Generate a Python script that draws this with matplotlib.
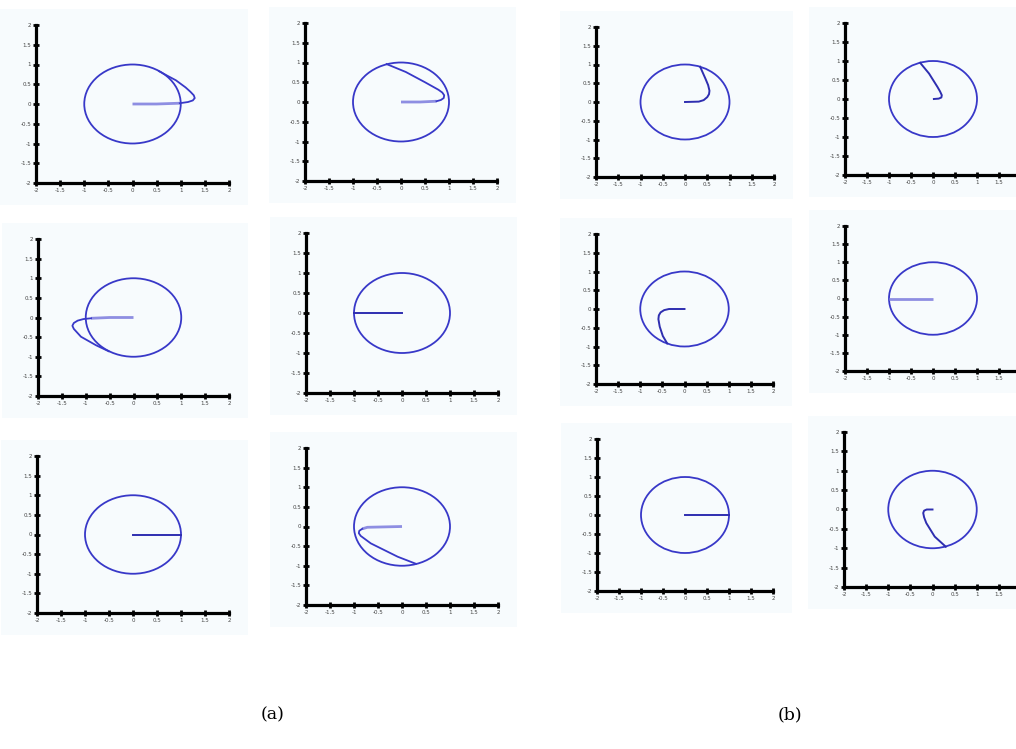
import numpy as np
import matplotlib
matplotlib.use("Agg")
import matplotlib.pyplot as plt
from matplotlib.patches import Circle, Rectangle

W, H = 1016, 749

ticks = [-2, -1.5, -1, -0.5, 0, 0.5, 1, 1.5, 2]
tick_labels = ["-2", "-1.5", "-1", "-0.5", "0", "0.5", "1", "1.5", "2"]
circle_radius = 1.0

# arm curves per panel (row-major, 3 rows x 4 cols); light part = points [0:split+1]
p1_x = [0, 0.5, 0.98, 1.15, 1.25, 1.29, 1.27, 1.2, 1.1, 0.9, 0.7, 0.55]
p1_y = [0, 0.0, 0.02, 0.05, 0.09, 0.15, 0.22, 0.31, 0.42, 0.6, 0.73, 0.83]
p1_split = 2
p2_x = [0, 0.4, 0.74, 0.83, 0.89, 0.90, 0.86, 0.78, 0.5, 0.1, -0.3]
p2_y = [0, 0.0, 0.02, 0.05, 0.10, 0.17, 0.24, 0.31, 0.5, 0.76, 0.96]
p2_split = 2
p3_x = [0, 0.31, 0.42, 0.50, 0.54, 0.55, 0.52, 0.46, 0.40, 0.34]
p3_y = [0, 0.01, 0.05, 0.13, 0.21, 0.30, 0.45, 0.62, 0.78, 0.94]
p3_split = 0
p4_x = [0.02, 0.13, 0.19, 0.2, 0.16, 0.10, -0.09, -0.29]
p4_y = [0, 0.01, 0.04, 0.10, 0.20, 0.32, 0.67, 0.95]
p4_split = 0
p5_x = [0, -0.5, -0.89, -1.05, -1.17, -1.25, -1.28, -1.25, -1.10, -0.78, -0.52]
p5_y = [0, 0.0, -0.02, -0.04, -0.08, -0.14, -0.21, -0.29, -0.49, -0.71, -0.86]
p5_split = 2
p6_x = [0, -1]
p6_y = [0, 0]
p6_split = 0
p7_x = [0, -0.35, -0.46, -0.54, -0.58, -0.59, -0.56, -0.49, -0.39]
p7_y = [0, 0, -0.03, -0.09, -0.17, -0.27, -0.47, -0.72, -0.92]
p7_split = 0
p8_x = [0, -1]
p8_y = [0, 0]
p8_split = 1
p9_x = [0, 1]
p9_y = [0, 0]
p9_split = 0
p10_x = [0, -0.72, -0.83, -0.89, -0.90, -0.86, -0.65, -0.09, 0.29]
p10_y = [0, -0.02, -0.06, -0.11, -0.17, -0.24, -0.43, -0.77, -0.95]
p10_split = 2
p11_x = [0, 1]
p11_y = [0, 0]
p11_split = 0
p12_x = [0, -0.13, -0.19, -0.21, -0.19, -0.14, 0.05, 0.30]
p12_y = [0, 0, -0.03, -0.09, -0.20, -0.35, -0.70, -0.96]
p12_split = 0

arms = [(p1_x, p1_y, p1_split), (p2_x, p2_y, p2_split), (p3_x, p3_y, p3_split), (p4_x, p4_y, p4_split),
        (p5_x, p5_y, p5_split), (p6_x, p6_y, p6_split), (p7_x, p7_y, p7_split), (p8_x, p8_y, p8_split),
        (p9_x, p9_y, p9_split), (p10_x, p10_y, p10_split), (p11_x, p11_y, p11_split), (p12_x, p12_y, p12_split)]

# axes boxes in pixels: left, right, top, bottom
boxes = [(36, 229, 25, 183), (305, 497, 23, 181), (596, 774, 27, 177), (845, 1021, 23, 175),
         (38, 229, 239, 396), (306, 498, 233, 393), (596, 773, 234, 384), (845, 1021, 226, 371),
         (37, 229, 456, 613), (306, 498, 448, 605), (597, 773, 439, 591), (844, 1021, 432, 587)]

fig = plt.figure(figsize=(W / 100, H / 100), dpi=100)
fig.patch.set_facecolor("white")

circle_color = "#3838c8"
dark_color = "#2e2eb0"
light_color = "#8e8ee2"

for i, ((l, r, t, b), (ax_x, ax_y, split)) in enumerate(zip(boxes, arms)):
    # faint panel tint
    fig.patches.append(Rectangle(((l - 36) / W, 1 - (b + 22) / H), (r - l + 55) / W, (b - t + 38) / H,
                                 transform=fig.transFigure, facecolor="#f7fbfd", edgecolor="none",
                                 zorder=-5))
    ax = fig.add_axes([l / W, 1 - b / H, (r - l) / W, (b - t) / H])
    ax.set_zorder(2)
    ax.set_facecolor("none")
    ax.set_xlim(-2, 2)
    ax.set_ylim(-2, 2)
    for s in ["top", "right"]:
        ax.spines[s].set_visible(False)
    for s in ["left", "bottom"]:
        ax.spines[s].set_linewidth(2.3)
        ax.spines[s].set_color("black")
    ax.set_xticks(ticks)
    ax.set_yticks(ticks)
    xl = list(tick_labels)
    if i % 4 == 3:
        xl[-1] = ""
    ax.set_xticklabels(xl)
    ax.set_yticklabels(tick_labels)
    ax.tick_params(direction="inout", length=4, width=2.0, labelsize=4.0, pad=1.5, colors="black",
                   labelcolor="#444444")
    ax.add_patch(Circle((0, 0), circle_radius, fill=False, edgecolor=circle_color, linewidth=1.3))
    if split > 0:
        ax.plot(ax_x[:split + 1], ax_y[:split + 1], color=light_color, linewidth=2.0, solid_capstyle="butt")
        if split < len(ax_x) - 1:
            ax.plot(ax_x[split:], ax_y[split:], color=circle_color, linewidth=1.3,
                    solid_joinstyle="round")
    else:
        ax.plot(ax_x, ax_y, color=dark_color, linewidth=1.4, solid_joinstyle="round")

fig.text(273 / W, 1 - 715 / H, "(a)", fontsize=12.5, family="DejaVu Serif", ha="center", va="center")
fig.text(790 / W, 1 - 715 / H, "(b)", fontsize=12.5, family="DejaVu Serif", ha="center", va="center")

fig.savefig("out.png", dpi=100)
